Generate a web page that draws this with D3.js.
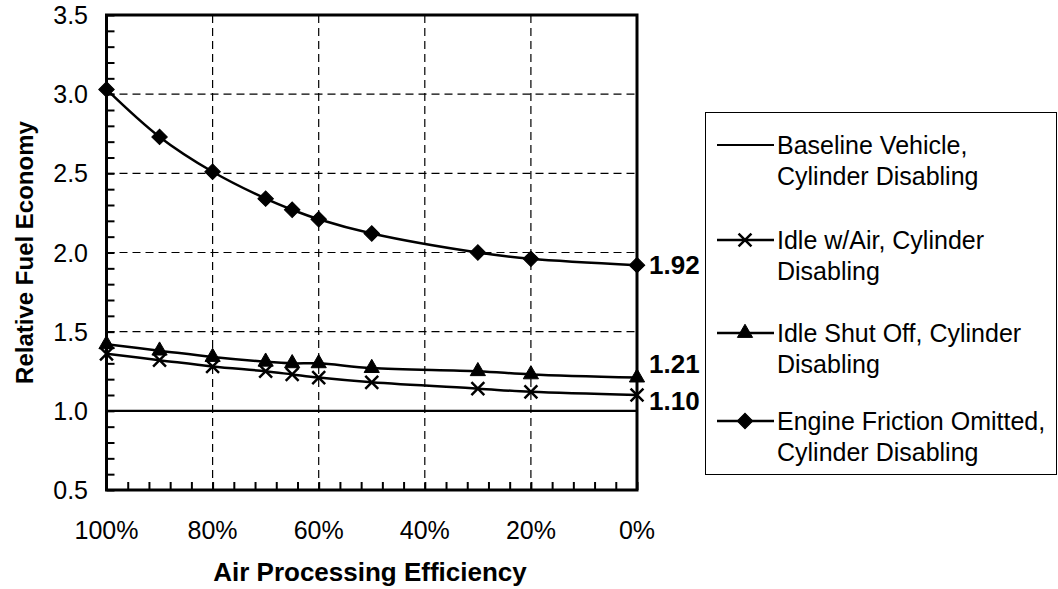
<!DOCTYPE html>
<html>
<head>
<meta charset="utf-8">
<script src="https://cdn.jsdelivr.net/npm/d3@7"></script>
<style>
body { margin: 0; background: #fff; }
text { font-family: "Liberation Sans", Arial, Helvetica, sans-serif; fill: #000; }
</style>
</head>
<body>
<div id="chart"></div>
<script>
// data
var efficiency = [100, 90, 80, 70, 65, 60, 50, 30, 20, 0];
var baseline = [1.00, 1.00, 1.00, 1.00, 1.00, 1.00, 1.00, 1.00, 1.00, 1.00];
var idleAir = [1.36, 1.32, 1.28, 1.25, 1.23, 1.21, 1.18, 1.14, 1.12, 1.10];
var idleOff = [1.42, 1.38, 1.34, 1.31, 1.30, 1.30, 1.27, 1.25, 1.23, 1.21];
var friction = [3.03, 2.73, 2.51, 2.34, 2.27, 2.21, 2.12, 2.00, 1.96, 1.92];
var seriesNames = [
  ["Baseline Vehicle,", "Cylinder Disabling"],
  ["Idle w/Air, Cylinder", "Disabling"],
  ["Idle Shut Off, Cylinder", "Disabling"],
  ["Engine Friction Omitted,", "Cylinder Disabling"]
];
var endLabels = ["1.92", "1.21", "1.10"];
var xTickValues = [100, 80, 60, 40, 20, 0];
var yTickValues = [0.5, 1.0, 1.5, 2.0, 2.5, 3.0, 3.5];

var width = 1058, height = 589;
var plot = {left: 106.5, right: 637, top: 15, bottom: 490};

var svg = d3.select("#chart").append("svg")
  .attr("width", width)
  .attr("height", height);

var x = d3.scaleLinear().domain([100, 0]).range([plot.left, plot.right]);
var y = d3.scaleLinear().domain([0.5, 3.5]).range([plot.bottom, plot.top]);

// dashed grid
var grid = svg.append("g").attr("class", "grid")
  .style("stroke", "#000").style("stroke-width", 1.2).style("stroke-dasharray", "8,5");
grid.selectAll("line.v")
  .data([80, 60, 40, 20])
  .enter().append("line")
  .attr("x1", d => x(d)).attr("x2", d => x(d))
  .attr("y1", plot.top).attr("y2", plot.bottom);
grid.selectAll("line.h")
  .data([1.5, 2.0, 2.5, 3.0])
  .enter().append("line")
  .attr("x1", plot.left).attr("x2", plot.right)
  .attr("y1", d => y(d)).attr("y2", d => y(d));

// minor ticks pointing inward
var xAxis = d3.axisBottom(x)
  .tickValues(d3.range(0, 101, 4))
  .tickSize(-8).tickFormat("");
svg.append("g").attr("transform", "translate(0," + plot.bottom + ")")
  .call(xAxis)
  .call(g => g.select(".domain").remove())
  .selectAll("line").style("stroke-width", 2);

var yAxis = d3.axisLeft(y)
  .tickValues(d3.range(5, 36).map(d => d / 10))
  .tickSize(-8).tickFormat("");
svg.append("g").attr("transform", "translate(" + plot.left + ",0)")
  .call(yAxis)
  .call(g => g.select(".domain").remove())
  .selectAll("line").style("stroke-width", 2);

// tick labels
svg.append("g").selectAll("text")
  .data(xTickValues)
  .enter().append("text")
  .attr("x", d => x(d))
  .attr("y", 539)
  .attr("text-anchor", "middle")
  .style("font-size", "25px")
  .text(d => d + "%");

svg.append("g").selectAll("text")
  .data(yTickValues)
  .enter().append("text")
  .attr("x", 88)
  .attr("y", d => y(d) + 9)
  .attr("text-anchor", "end")
  .style("font-size", "25px")
  .text(d3.format(".1f"));

// axis titles
svg.append("text")
  .attr("x", 370).attr("y", 581)
  .attr("text-anchor", "middle")
  .style("font-size", "26px").style("font-weight", "bold")
  .text("Air Processing Efficiency");

svg.append("text")
  .attr("transform", "translate(33," + ((plot.top + plot.bottom) / 2) + ") rotate(-90)")
  .attr("text-anchor", "middle")
  .style("font-size", "24px").style("font-weight", "bold")
  .text("Relative Fuel Economy");

// series lines
var line = d3.line()
  .x((d, i) => x(efficiency[i]))
  .y(d => y(d))
  .curve(d3.curveCatmullRom.alpha(0.5));

var lines = svg.append("g").style("fill", "none").style("stroke", "#000");
lines.append("path").attr("d", line(baseline)).style("stroke-width", 2.2);
lines.append("path").attr("d", line(idleAir)).style("stroke-width", 2.5);
lines.append("path").attr("d", line(idleOff)).style("stroke-width", 2.5);
lines.append("path").attr("d", line(friction)).style("stroke-width", 2.5);

// markers
var diamond = d3.symbol().type(d3.symbolSquare).size(120);
var triangle = d3.symbol().type(d3.symbolTriangle).size(100);
var cross = d3.symbol().type(d3.symbolX).size(110);

function drawMarkers(values, sym, hollow) {
  var g = svg.append("g");
  g.selectAll("path")
    .data(values)
    .enter().append("path")
    .attr("d", sym)
    .attr("transform", (d, i) => "translate(" + x(efficiency[i]) + "," + y(d) + ")" + (sym === diamond ? " rotate(45)" : ""))
    .style("fill", hollow ? "none" : "#000")
    .style("stroke", "#000")
    .style("stroke-width", hollow ? 2.5 : 1);
}
drawMarkers(idleAir, cross, true);
drawMarkers(idleOff, triangle, false);
drawMarkers(friction, diamond, false);

// frame
svg.append("rect")
  .attr("x", plot.left).attr("y", plot.top)
  .attr("width", plot.right - plot.left).attr("height", plot.bottom - plot.top)
  .style("fill", "none").style("stroke", "#000").style("stroke-width", 3);

// end labels
var endValues = [friction[friction.length - 1], idleOff[idleOff.length - 1], idleAir[idleAir.length - 1]];
var endOffsets = [0, -14, 6];
svg.append("g").selectAll("text")
  .data(endLabels)
  .enter().append("text")
  .attr("x", 649)
  .attr("y", (d, i) => y(endValues[i]) + endOffsets[i] + 9)
  .style("font-size", "26px").style("font-weight", "bold")
  .text(d => d);

// legend
var legend = svg.append("g");
legend.append("rect")
  .attr("x", 705.5).attr("y", 112.5)
  .attr("width", 351).attr("height", 362)
  .style("fill", "none").style("stroke", "#000").style("stroke-width", 1);

var legendY = [145, 240, 333, 421];
var legendSyms = [null, cross, triangle, diamond];
seriesNames.forEach(function(name, i) {
  var ly = legendY[i];
  legend.append("line")
    .attr("x1", 717).attr("x2", 774)
    .attr("y1", ly).attr("y2", ly)
    .style("stroke", "#000").style("stroke-width", i === 0 ? 2 : 2.5);
  if (legendSyms[i]) {
    legend.append("path")
      .attr("d", legendSyms[i])
      .attr("transform", "translate(745," + ly + ")" + (legendSyms[i] === diamond ? " rotate(45)" : ""))
      .style("fill", legendSyms[i] === cross ? "none" : "#000")
      .style("stroke", "#000")
      .style("stroke-width", legendSyms[i] === cross ? 2.5 : 1);
  }
  var t = legend.append("text")
    .attr("x", 777).attr("y", ly + 9)
    .style("font-size", "25px");
  t.append("tspan").attr("x", 777).text(name[0]);
  t.append("tspan").attr("x", 777).attr("dy", 31).text(name[1]);
});
</script>
</body>
</html>
